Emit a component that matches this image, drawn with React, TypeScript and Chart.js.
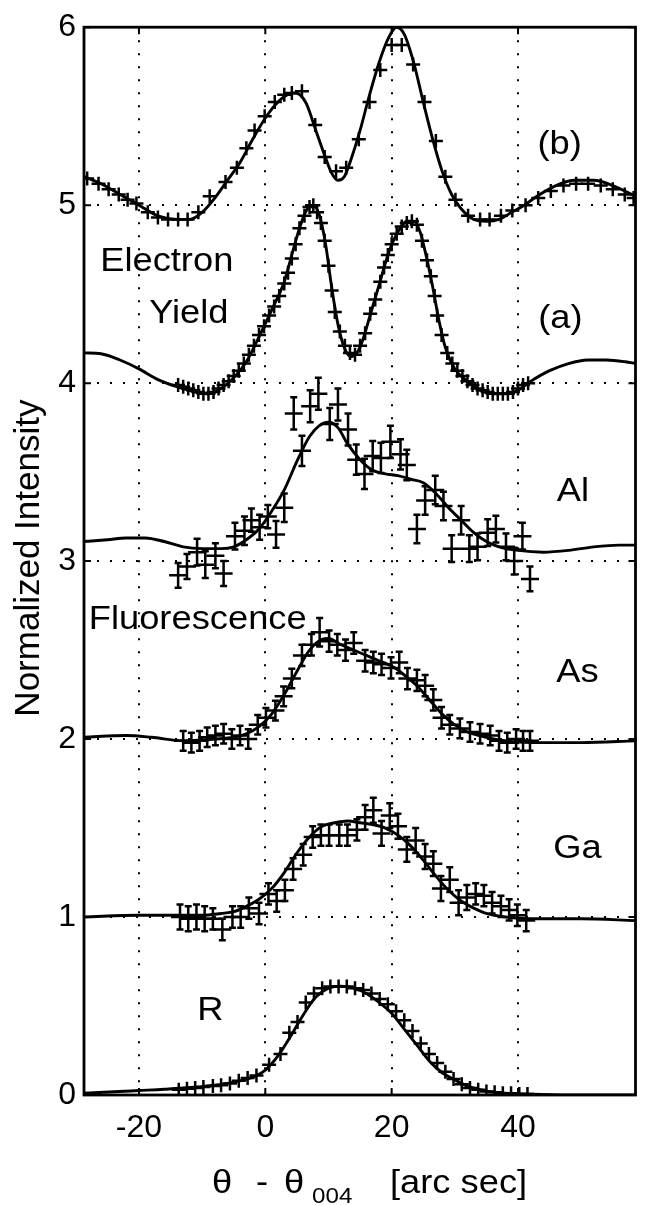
import React, { useEffect, useRef } from 'react';
import { Chart, registerables } from 'chart.js';
Chart.register(...registerables);

const xRange = [-28.7, 58.6];
const yRange = [0, 6];
const xTicks = [-20, 0, 20, 40];
const yTicks = [0, 1, 2, 3, 4, 5, 6];

// Electron yield (b): fit and data
const fitB: number[][] = [[-28.7,5.16],[-26,5.12],[-23,5.06],[-20,5.0],[-17,4.94],[-14,4.92],[-12,4.92],[-10,4.96],[-8,5.04],[-6,5.14],[-4,5.24],[-2,5.37],[0,5.49],[2,5.58],[3.5,5.62],[4.5,5.63],[5.5,5.62],[6.5,5.57],[8,5.42],[9.5,5.27],[10.5,5.18],[11.5,5.14],[12.5,5.16],[13.5,5.25],[15,5.42],[16.5,5.62],[18,5.8],[19.5,5.94],[20.8,6.0],[22,5.96],[23.5,5.8],[25,5.58],[26.5,5.37],[28,5.19],[29.5,5.06],[31,4.98],[33,4.92],[35,4.91],[37,4.92],[39,4.96],[41,5.0],[43,5.05],[46,5.11],[49,5.14],[52,5.14],[55,5.11],[58.6,5.05]];
const ptsB: number[][] = [[-28.2,5.15],[-26.4,5.12],[-24.8,5.09],[-23.2,5.06],[-21.8,5.03],[-20.4,5.01],[-18.6,4.96],[-17.0,4.93],[-15.4,4.92],[-13.8,4.92],[-12.3,4.92],[-10.6,4.96],[-8.8,5.05],[-6.3,5.13],[-4.5,5.21],[-3.0,5.32],[-1.7,5.42],[-0.1,5.5],[1.5,5.58],[3.0,5.62],[4.2,5.63],[5.8,5.64],[7.9,5.45],[9.4,5.27],[11.2,5.19],[12.8,5.21],[14.8,5.37],[16.5,5.58],[18.2,5.76],[20.0,5.9],[21.6,5.9],[23.4,5.79],[25.2,5.58],[27.0,5.36],[28.5,5.16],[30.1,5.03],[32.1,4.94],[34.0,4.92],[35.5,4.92],[37.3,4.94],[39.1,4.97],[41.2,5.0],[43.2,5.04],[45.2,5.08],[47.2,5.11],[49.2,5.12],[51.1,5.12],[53.1,5.11],[55.0,5.09],[56.9,5.06],[58.3,5.04]];

// Electron yield (a)
const fitA: number[][] = [[-28.7,4.17],[-26,4.165],[-23,4.13],[-20,4.08],[-17,4.02],[-14,3.98],[-11,3.95],[-9,3.94],[-7,3.97],[-5,4.03],[-3,4.12],[-1,4.26],[1,4.41],[3,4.57],[4.5,4.76],[5.5,4.88],[6.5,4.97],[7.5,5.0],[8.5,4.95],[9.5,4.79],[10.5,4.54],[11.5,4.33],[12.5,4.2],[13.5,4.15],[14.5,4.17],[15.5,4.25],[16.5,4.37],[18,4.55],[19.5,4.73],[21,4.85],[22.5,4.91],[23.5,4.91],[24.5,4.85],[25.5,4.71],[26.5,4.54],[27.5,4.35],[28.5,4.2],[30,4.08],[32,4.01],[34,3.96],[36,3.94],[38,3.94],[40,3.96],[42,4.01],[45,4.07],[48,4.11],[51,4.13],[54,4.13],[57,4.12],[58.6,4.11]];
const ptsA: number[][] = [[-13.8,3.99],[-13.0,3.98],[-12.2,3.97],[-11.4,3.96],[-10.6,3.95],[-9.8,3.94],[-9.0,3.94],[-8.2,3.95],[-7.4,3.97],[-6.6,3.99],[-5.8,4.01],[-5.0,4.04],[-4.2,4.07],[-3.4,4.11],[-2.6,4.16],[-1.8,4.21],[-1.0,4.27],[-0.2,4.32],[0.6,4.38],[1.4,4.43],[2.2,4.49],[3.0,4.56],[3.6,4.62],[4.2,4.7],[4.8,4.78],[5.4,4.87],[6.2,4.94],[7.0,4.99],[7.6,5.0],[8.2,4.96],[8.8,4.9],[9.4,4.8],[10.0,4.66],[10.5,4.52],[11.0,4.4],[11.8,4.29],[12.6,4.21],[13.4,4.17],[14.2,4.16],[15.0,4.21],[15.8,4.28],[16.6,4.39],[17.4,4.47],[18.2,4.57],[18.8,4.65],[19.4,4.72],[20.0,4.78],[20.8,4.84],[21.6,4.88],[22.4,4.9],[23.2,4.91],[24.0,4.89],[24.8,4.8],[25.6,4.69],[26.2,4.6],[26.8,4.49],[27.2,4.38],[27.9,4.27],[28.8,4.17],[29.6,4.11],[30.4,4.07],[31.2,4.04],[32.0,4.01],[32.8,3.99],[33.6,3.97],[34.4,3.96],[35.2,3.95],[36.0,3.94],[36.8,3.94],[37.6,3.94],[38.4,3.94],[39.2,3.95],[40.0,3.97],[40.8,3.99],[41.6,4.0]];

// Al fluorescence: [x, y, error]
const fitAl: number[][] = [[-28.7,3.11],[-25,3.12],[-22,3.13],[-19,3.13],[-16,3.11],[-13,3.08],[-10,3.07],[-7,3.07],[-5,3.08],[-3,3.12],[-1,3.18],[1,3.28],[3,3.4],[5,3.56],[7,3.7],[8.5,3.76],[10,3.78],[11.5,3.75],[13,3.66],[15,3.57],[17,3.51],[19,3.49],[21,3.48],[23,3.46],[25,3.44],[27,3.38],[29,3.3],[31,3.23],[33,3.16],[35,3.11],[37,3.08],[40,3.06],[44,3.05],[48,3.06],[52,3.08],[56,3.09],[58.6,3.09]];
const ptsAl: number[][] = [[-13.8,2.92,0.07],[-12.4,2.97,0.07],[-10.8,3.05,0.075],[-9.5,2.98,0.075],[-7.9,3.03,0.07],[-6.6,2.93,0.07],[-4.8,3.14,0.075],[-3.3,3.17,0.08],[-2.2,3.23,0.065],[-0.9,3.19,0.07],[0.4,3.25,0.065],[1.7,3.15,0.075],[3.0,3.3,0.08],[4.5,3.83,0.09],[5.8,3.62,0.085],[7.1,3.87,0.09],[8.4,3.94,0.09],[10.2,3.77,0.09],[11.5,3.88,0.09],[13.1,3.74,0.09],[14.4,3.57,0.085],[15.7,3.49,0.085],[17.0,3.59,0.085],[18.3,3.58,0.085],[19.8,3.67,0.09],[21.4,3.6,0.085],[22.4,3.54,0.085],[24.0,3.18,0.08],[25.3,3.34,0.08],[26.9,3.4,0.08],[28.2,3.31,0.08],[29.5,3.07,0.075],[31.0,3.23,0.08],[32.3,3.07,0.075],[33.6,3.08,0.075],[35.2,3.16,0.075],[36.5,3.18,0.075],[38.1,3.08,0.075],[39.4,3.0,0.075],[40.7,3.14,0.075],[41.9,2.9,0.07]];

// As fluorescence
const fitAs: number[][] = [[-28.7,2.01],[-22,2.02],[-18,2.01],[-13,1.99],[-8,2.0],[-5,2.01],[-3,2.03],[-1,2.07],[1,2.14],[3,2.25],[5,2.38],[7,2.5],[9,2.56],[10,2.565],[12,2.53],[14,2.5],[16,2.47],[18,2.44],[20,2.41],[22,2.36],[24,2.3],[26,2.22],[28,2.14],[30,2.08],[32,2.04],[35,2.01],[38,1.99],[42,1.98],[50,1.98],[58.6,1.99]];
const ptsAs: number[][] = [[-13.0,1.99,0.055],[-11.7,1.98,0.055],[-10.4,1.99,0.055],[-9.2,2.01,0.055],[-7.9,2.02,0.055],[-6.6,2.03,0.055],[-5.3,2.0,0.055],[-4.0,2.02,0.055],[-2.7,2.0,0.055],[-1.2,2.08,0.055],[0.1,2.12,0.055],[1.6,2.16,0.055],[2.9,2.24,0.055],[4.2,2.34,0.055],[5.8,2.47,0.06],[7.3,2.53,0.06],[8.6,2.6,0.08],[10.1,2.55,0.06],[11.4,2.53,0.06],[12.7,2.5,0.06],[14.0,2.54,0.06],[15.8,2.44,0.06],[17.1,2.43,0.06],[18.4,2.42,0.06],[19.9,2.4,0.06],[21.2,2.43,0.06],[22.5,2.34,0.06],[24.0,2.33,0.06],[25.3,2.3,0.06],[26.6,2.22,0.06],[27.9,2.12,0.06],[29.2,2.08,0.055],[30.8,2.06,0.055],[32.4,2.04,0.055],[34.0,2.03,0.055],[35.6,2.02,0.055],[37.0,1.99,0.055],[38.3,1.98,0.055],[39.7,2.0,0.055],[40.8,1.99,0.055],[41.9,1.99,0.055]];

// Ga fluorescence
const fitGa: number[][] = [[-28.7,1.0],[-20,1.01],[-15,1.01],[-10,1.01],[-7,1.02],[-5,1.03],[-3,1.06],[-1,1.1],[1,1.16],[3,1.25],[5,1.36],[7,1.45],[9,1.51],[11,1.53],[13,1.54],[15,1.53],[17,1.52],[19,1.5],[21,1.46],[23,1.4],[25,1.32],[27,1.23],[29,1.15],[31,1.09],[33,1.05],[35,1.02],[38,1.0],[42,0.99],[50,0.99],[58.6,0.98]];
const ptsGa: number[][] = [[-13.5,1.0,0.07],[-12.2,0.99,0.07],[-10.9,1.0,0.07],[-9.6,0.99,0.07],[-8.3,0.99,0.06],[-6.8,0.93,0.06],[-5.2,1.0,0.06],[-3.9,1.0,0.06],[-2.6,1.05,0.06],[-1.0,1.02,0.06],[0.5,1.13,0.06],[1.8,1.09,0.06],[3.1,1.15,0.06],[4.4,1.27,0.06],[6.0,1.35,0.06],[7.5,1.45,0.06],[8.8,1.46,0.06],[10.1,1.46,0.06],[11.7,1.46,0.06],[13.0,1.46,0.06],[14.5,1.49,0.06],[15.8,1.56,0.07],[17.1,1.6,0.07],[18.4,1.47,0.07],[19.7,1.57,0.07],[21.0,1.51,0.07],[22.4,1.38,0.07],[23.8,1.43,0.07],[25.3,1.34,0.07],[26.6,1.3,0.07],[27.8,1.16,0.07],[29.2,1.21,0.07],[30.6,1.08,0.07],[31.9,1.11,0.07],[33.3,1.13,0.06],[34.6,1.12,0.06],[35.9,1.08,0.06],[37.3,1.06,0.06],[38.6,1.04,0.06],[39.9,1.01,0.06],[41.3,0.98,0.06]];

// Reflectivity R
const fitR: number[][] = [[-28.7,0.01],[-24,0.018],[-20,0.025],[-16,0.032],[-13,0.04],[-10,0.047],[-8,0.055],[-6,0.065],[-4,0.08],[-2,0.1],[0,0.14],[2,0.22],[4,0.33],[6,0.45],[8,0.55],[10,0.6],[12,0.612],[14,0.6],[16,0.57],[18,0.52],[20,0.46],[22,0.37],[24,0.28],[26,0.19],[28,0.125],[30,0.085],[32,0.05],[35,0.022],[38,0.01],[42,0.004],[48,0.0],[58.6,0.0]];
const ptsR: number[][] = [[-13.7,0.03],[-12.4,0.035],[-11.1,0.04],[-9.8,0.045],[-8.3,0.05],[-7.0,0.055],[-5.6,0.065],[-4.2,0.08],[-2.8,0.095],[-1.4,0.11],[0.6,0.17],[2.4,0.23],[3.8,0.35],[5.1,0.41],[6.4,0.52],[7.7,0.57],[9.0,0.6],[10.3,0.61],[11.6,0.61],[12.9,0.61],[14.2,0.6],[15.5,0.59],[16.8,0.57],[18.1,0.54],[19.4,0.51],[20.7,0.47],[22.0,0.42],[23.3,0.36],[24.6,0.29],[25.9,0.23],[27.2,0.18],[28.5,0.13],[29.8,0.09],[31.1,0.06],[32.4,0.04],[33.7,0.03],[35.0,0.02],[36.3,0.015],[37.6,0.01],[38.9,0.01],[40.2,0.005],[41.5,0.005]];

// Text annotations in data coordinates
const annoText = ['(b)', 'Electron', 'Yield', '(a)', 'Al', 'Fluorescence', 'As', 'Ga', 'R'];
const annoX = [46.6, -15.6, -12.1, 46.7, 48.7, -10.7, 49.4, 49.4, -8.7];
const annoY = [5.34, 4.68, 4.39, 4.36, 3.39, 2.67, 2.37, 1.38, 0.475];

const FONT = '"Liberation Sans", Arial, Helvetica, sans-serif';

const toXY = (arr: number[][]) => arr.map((p) => ({ x: p[0], y: p[1] }));

const fitDs = (arr: number[][]) => ({
  data: toXY(arr),
  showLine: true,
  borderColor: '#000',
  borderWidth: 2.9,
  pointRadius: 0,
  cubicInterpolationMode: 'monotone',
  fill: false,
});
const crossDs = (arr: number[][], r: number) => ({
  data: toXY(arr),
  showLine: false,
  pointStyle: 'cross',
  pointRadius: r,
  pointBorderWidth: 2.5,
  pointBorderColor: '#000',
  pointBackgroundColor: 'rgba(0,0,0,0)',
});
const errDs = (arr: number[][]) => ({
  data: toXY(arr),
  errors: arr.map((p) => p[2]),
  showLine: false,
  pointStyle: 'line',
  pointRadius: 9,
  pointBorderWidth: 2.5,
  pointBorderColor: '#000',
  pointBackgroundColor: 'rgba(0,0,0,0)',
});

const errorBarPlugin = {
  id: 'errorBars',
  afterDatasetsDraw(chart: any) {
    const { ctx } = chart;
    const xs = chart.scales.x;
    const ys = chart.scales.y;
    chart.data.datasets.forEach((ds: any) => {
      if (!ds.errors) return;
      ctx.save();
      ctx.strokeStyle = '#000';
      ctx.lineWidth = 2.5;
      ds.data.forEach((p: any, j: number) => {
        const e = ds.errors[j];
        const px = xs.getPixelForValue(p.x);
        const y1 = ys.getPixelForValue(p.y - e);
        const y2 = ys.getPixelForValue(p.y + e);
        ctx.beginPath();
        ctx.moveTo(px, y1);
        ctx.lineTo(px, y2);
        ctx.moveTo(px - 3.5, y1);
        ctx.lineTo(px + 3.5, y1);
        ctx.moveTo(px - 3.5, y2);
        ctx.lineTo(px + 3.5, y2);
        ctx.stroke();
      });
      ctx.restore();
    });
  },
};

const decorPlugin = {
  id: 'decor',
  afterDraw(chart: any) {
    const { ctx, chartArea } = chart;
    const { left, right, top, bottom } = chartArea;
    const xs = chart.scales.x;
    const ys = chart.scales.y;
    ctx.save();
    ctx.strokeStyle = '#000';
    ctx.lineWidth = 2.8;
    ctx.strokeRect(left, top, right - left, bottom - top);
    ctx.lineWidth = 2;
    ctx.beginPath();
    xTicks.forEach((v) => {
      const px = xs.getPixelForValue(v);
      ctx.moveTo(px, bottom);
      ctx.lineTo(px, bottom - 7);
      ctx.moveTo(px, top);
      ctx.lineTo(px, top + 7);
    });
    yTicks.forEach((v) => {
      const py = ys.getPixelForValue(v);
      ctx.moveTo(left, py);
      ctx.lineTo(left + 7, py);
      ctx.moveTo(right, py);
      ctx.lineTo(right - 7, py);
    });
    ctx.stroke();

    ctx.fillStyle = '#000';
    ctx.textAlign = 'center';
    ctx.textBaseline = 'middle';
    ctx.font = `33px ${FONT}`;
    annoText.forEach((t, i) => {
      const px = xs.getPixelForValue(annoX[i]);
      const py = ys.getPixelForValue(annoY[i]);
      ctx.save();
      ctx.translate(px, py);
      ctx.scale(1.1, 1);
      ctx.fillText(t, 0, 0);
      ctx.restore();
    });

    // y axis title
    ctx.save();
    ctx.translate(29, (top + bottom) / 2 - 3);
    ctx.rotate(-Math.PI / 2);
    ctx.font = `35px ${FONT}`;
    ctx.textAlign = 'center';
    ctx.textBaseline = 'middle';
    ctx.fillText('Normalized Intensity', 0, 0);
    ctx.restore();

    // x axis title
    const base = bottom + 98;
    ctx.textAlign = 'left';
    ctx.textBaseline = 'alphabetic';
    const piece = (t: string, x: number, y: number, size: number) => {
      ctx.save();
      ctx.font = `${size}px ${FONT}`;
      ctx.translate(x, y);
      ctx.scale(1.1, 1);
      ctx.fillText(t, 0, 0);
      ctx.restore();
    };
    piece('\u03B8', 212, base, 33);
    piece('-', 256, base, 33);
    piece('\u03B8', 284, base, 33);
    piece('004', 312, base + 10, 22);
    piece('[arc sec]', 390, base, 33);
    ctx.restore();
  },
};

export default function App() {
  const ref = useRef<HTMLCanvasElement | null>(null);
  useEffect(() => {
    if (!ref.current) return;
    const chart = new Chart(ref.current, {
      type: 'scatter',
      data: {
        datasets: [
          fitB, fitA, fitAl, fitAs, fitGa, fitR,
        ].map(fitDs).concat([
          crossDs(ptsB, 7),
          crossDs(ptsA, 7),
          crossDs(ptsR, 7),
        ] as any).concat([errDs(ptsAl), errDs(ptsAs), errDs(ptsGa)] as any) as any,
      },
      options: {
        animation: false,
        responsive: true,
        maintainAspectRatio: false,
        layout: { padding: { left: 0, right: 4, top: 21, bottom: 0 } },
        plugins: { legend: { display: false }, tooltip: { enabled: false } },
        scales: {
          x: {
            type: 'linear',
            min: xRange[0],
            max: xRange[1],
            afterBuildTicks: (s: any) => {
              s.ticks = xTicks.map((v) => ({ value: v }));
            },
            afterFit: (s: any) => {
              s.height = 110;
            },
            grid: { color: '#000', lineWidth: 2, drawTicks: false },
            border: { display: false, dash: [2, 11] },
            ticks: {
              color: '#000',
              padding: 14,
              font: { family: FONT, size: 32 },
              callback: (v: any) => String(v),
            },
          },
          y: {
            type: 'linear',
            min: yRange[0],
            max: yRange[1],
            afterBuildTicks: (s: any) => {
              s.ticks = yTicks.map((v) => ({ value: v }));
            },
            afterFit: (s: any) => {
              s.width = 84;
            },
            grid: { color: '#000', lineWidth: 2, drawTicks: false },
            border: { display: false, dash: [2, 11] },
            ticks: {
              color: '#000',
              padding: 8,
              font: { family: FONT, size: 32 },
              callback: (v: any) => String(v),
            },
          },
        },
      } as any,
      plugins: [errorBarPlugin, decorPlugin],
    });
    return () => chart.destroy();
  }, []);
  return (
    <div style={{ position: 'absolute', left: 0, top: 0, width: 647, height: 1205, background: '#fff' }}>
      <canvas ref={ref} />
    </div>
  );
}
